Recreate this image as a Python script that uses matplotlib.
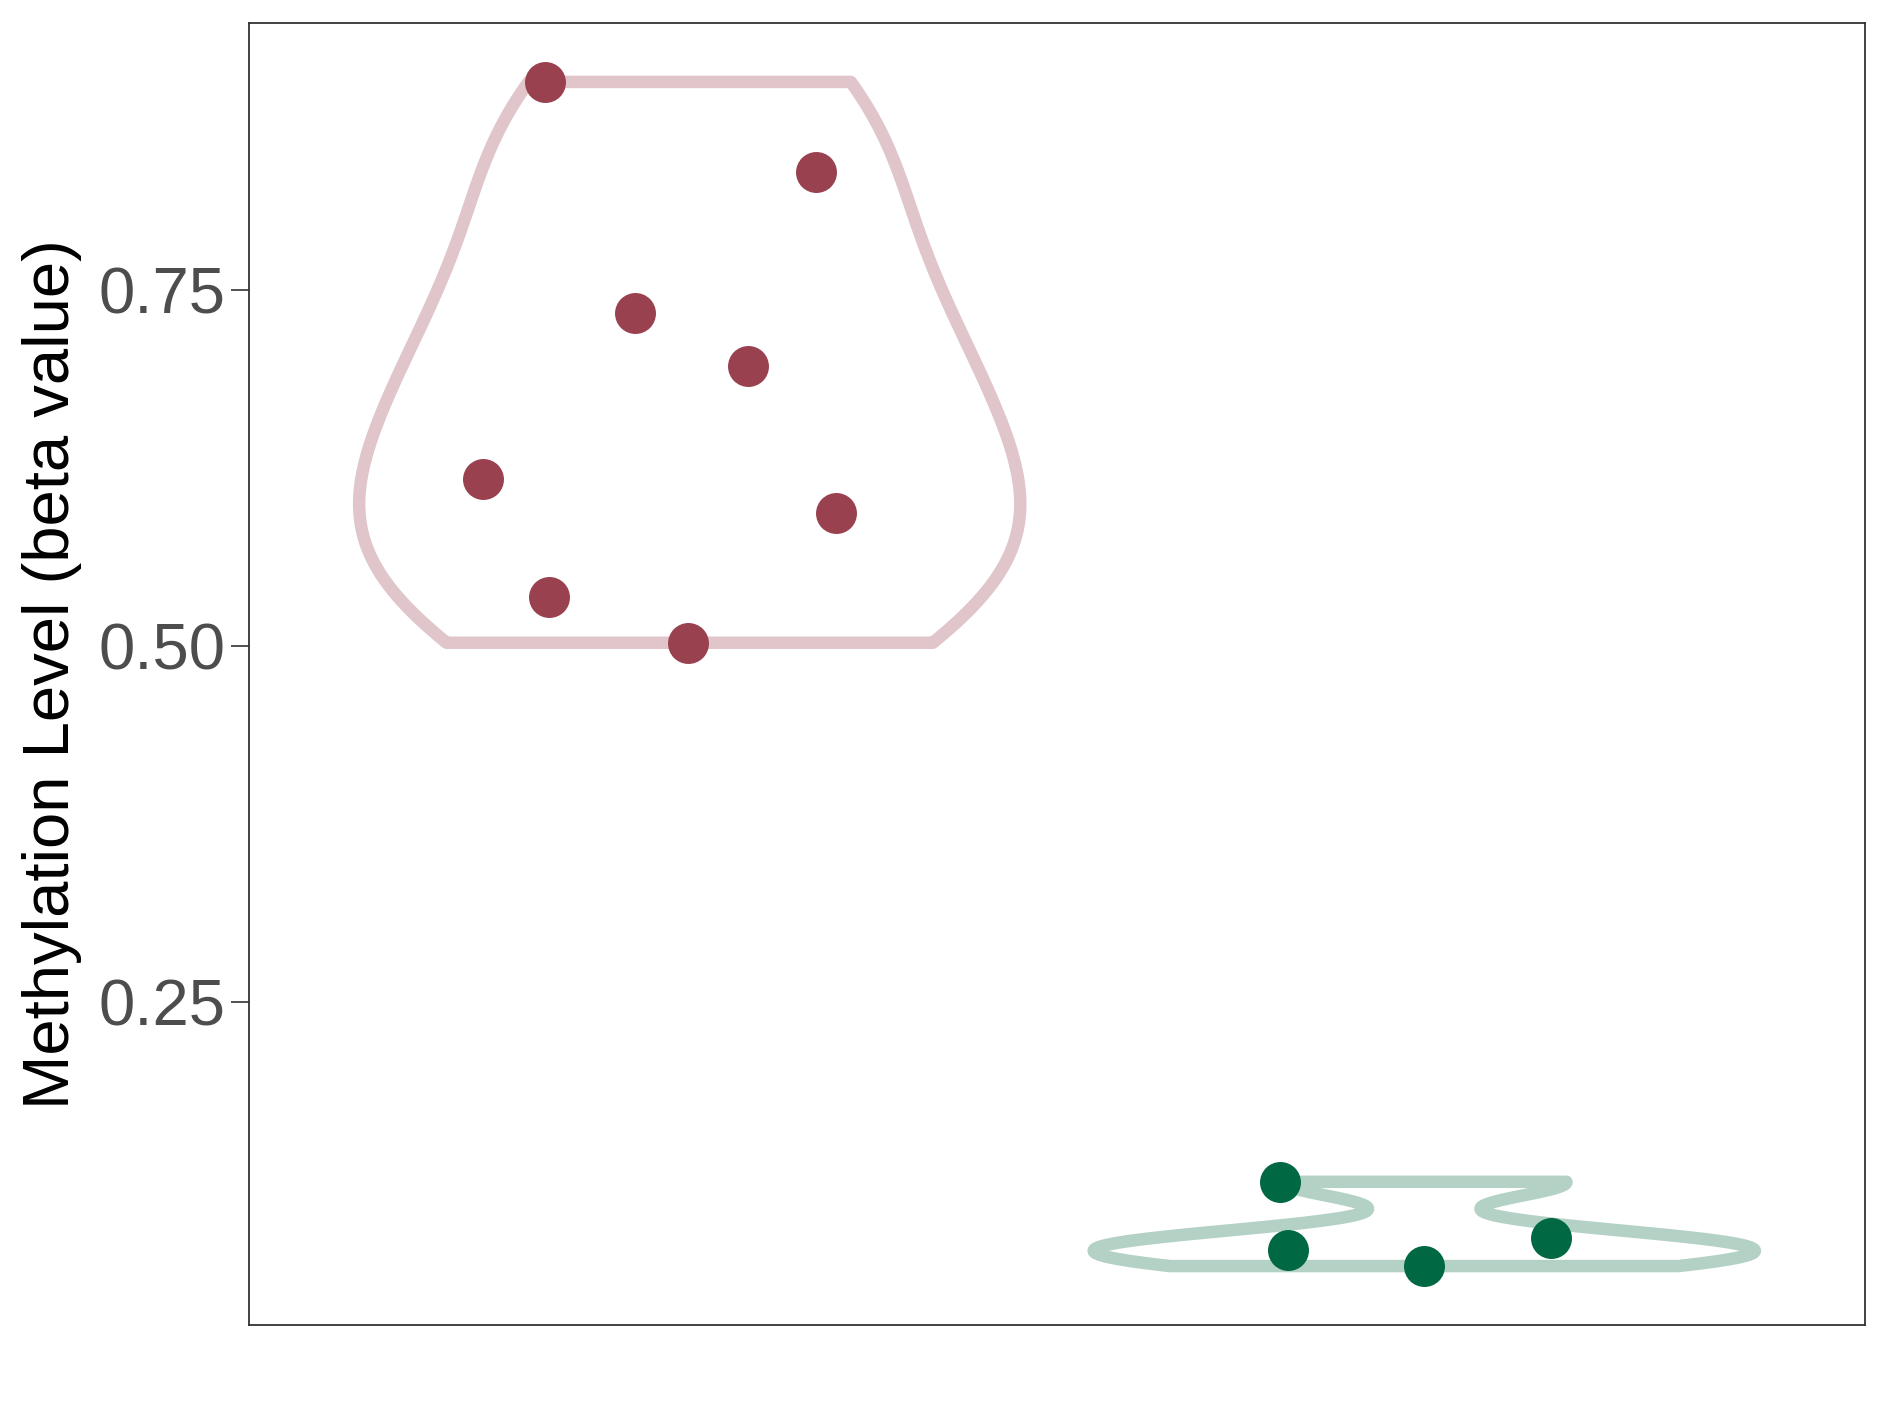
import numpy as np
import matplotlib
matplotlib.use('Agg')
import matplotlib.pyplot as plt

# ── data ─────────────────────────────────────────────────────────────────────
group_pos   = [1, 2]
red_vals    = [0.8964, 0.8329, 0.7339, 0.6967, 0.6172, 0.5935, 0.5343, 0.5025]
red_jitter  = [0.803, 1.172, 0.925, 1.079, 0.719, 1.199, 0.808, 0.998]
green_vals  = [0.1239, 0.0757, 0.0842, 0.0647]
green_jitter = [1.804, 1.814, 2.173, 1.999]
yticks      = [0.25, 0.50, 0.75]
ytick_lbls  = ['0.25', '0.50', '0.75']

RED_PT, RED_LINE     = '#9A4150', '#E0C5CA'
GREEN_PT, GREEN_LINE = '#006843', '#B4D1C6'

plt.rcParams['font.family'] = ['Liberation Sans', 'DejaVu Sans']


def nrd0_factor(x):
    # R's bw.nrd0, expressed as a factor of the sample sd (matplotlib's kde convention)
    x = np.asarray(x)
    sd = x.std(ddof=1)
    iqr = np.subtract(*np.percentile(x, [75, 25]))
    lo = min(sd, iqr / 1.34) if iqr > 0 else sd
    h = 0.9 * lo * len(x) ** -0.2
    return h / sd


fig = plt.figure(figsize=(18.89, 14.17), dpi=100)
ax = fig.add_axes([0.1318, 0.0649, 0.8555, 0.9189])

for vals, pos, lc in [(red_vals, 1, RED_LINE), (green_vals, 2, GREEN_LINE)]:
    parts = ax.violinplot([vals], positions=[pos], widths=0.9, points=512,
                          bw_method=nrd0_factor(vals), showextrema=False)
    for b in parts['bodies']:
        b.set_facecolor('none')
        b.set_edgecolor(lc)
        b.set_linewidth(9)
        b.set_alpha(1)
        b.set_joinstyle('round')

ax.scatter(red_jitter, red_vals, s=870, color=RED_PT, zorder=3, linewidths=0)
ax.scatter(green_jitter, green_vals, s=870, color=GREEN_PT, zorder=3, linewidths=0)

ax.set_xlim(0.4, 2.6)
ax.set_ylim(0.0233, 0.9378)
ax.set_xticks([])
ax.set_yticks(yticks)
ax.set_yticklabels(ytick_lbls)
ax.tick_params(axis='y', labelsize=47, labelcolor='#4D4D4D', length=13,
               width=1.2, color='#333333', pad=4)
ax.set_ylabel('Methylation Level (beta value)', fontsize=47, color='black', labelpad=12)
for s in ax.spines.values():
    s.set_color('#333333')
    s.set_linewidth(1.3)

fig.savefig('out.png', dpi=100)
